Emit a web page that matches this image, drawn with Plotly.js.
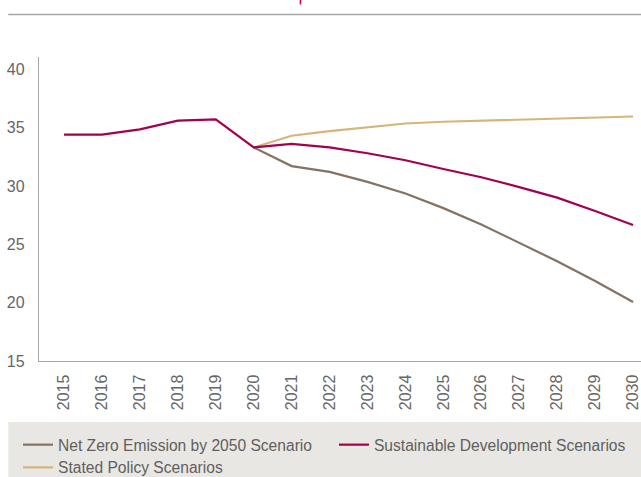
<!DOCTYPE html>
<html>
<head>
<meta charset="utf-8">
<script src="https://cdn.plot.ly/plotly-3.0.1.min.js"></script>
<style>
html,body{margin:0;padding:0;background:#fff;}
#chart{width:641px;height:477px;}
</style>
</head>
<body>
<div id="chart"></div>
<script>
const yearsAll = [2015,2016,2017,2018,2019,2020,2021,2022,2023,2024,2025,2026,2027,2028,2029,2030];
const yearsProj = [2020,2021,2022,2023,2024,2025,2026,2027,2028,2029,2030];
const sdsValues = [34.4,34.4,34.85,35.6,35.7,33.3,33.6,33.3,32.8,32.2,31.45,30.75,29.9,29.0,27.85,26.65];
const nzeValues = [33.3,31.7,31.2,30.35,29.35,28.1,26.7,25.15,23.55,21.85,20.05];
const stepsValues = [33.3,34.3,34.7,35.05,35.35,35.5,35.6,35.7,35.8,35.88,35.95];
const seriesNames = ["Net Zero Emission by 2050 Scenario","Sustainable Development Scenarios","Stated Policy Scenarios"];
const yTicks = [15,20,25,30,35,40];

const fam = "Liberation Sans, Arial, sans-serif";
const tickFont = {family:fam, size:16, color:"#666666"};
const legFont = {family:fam, size:15.6, color:"#5f5f5f"};

const traces = [
  {x:yearsProj, y:nzeValues, name:seriesNames[0], mode:"lines", line:{color:"#857262", width:2.2}, legend:"legend"},
  {x:yearsAll, y:sdsValues, name:seriesNames[1], mode:"lines", line:{color:"#A3004F", width:2.2}, legend:"legend2"},
  {x:yearsProj, y:stepsValues, name:seriesNames[2], mode:"lines", line:{color:"#D6B47A", width:2.2}, legend:"legend3"}
];
const ordered = [traces[2], traces[0], traces[1]];

function leg(x, y) {
  return {orientation:"h", x:x, xanchor:"left", y:y, yanchor:"top",
          xref:"container", yref:"container",
          bgcolor:"rgba(0,0,0,0)", font:legFont, itemwidth:30};
}

const layout = {
  width:641, height:477,
  margin:{l:39, r:0, t:57, b:116},
  paper_bgcolor:"#ffffff", plot_bgcolor:"#ffffff",
  font:{family:fam, size:15, color:"#5a5a5a"},
  showlegend:true,
  legend:leg(0.0281, 0.1027),
  legend2:leg(0.521, 0.1027),
  legend3:leg(0.0281, 0.0551),
  xaxis:{
    type:"linear", range:[2014.34, 2030.21],
    tickvals:yearsAll, ticktext:yearsAll.map(String), tickangle:-90,
    showgrid:false, zeroline:false, showline:true, linecolor:"#a6a6a6", linewidth:1.2,
    ticks:"", ticklabelstandoff:6, ticklabeloverflow:"allow",
    tickfont:tickFont, fixedrange:true
  },
  yaxis:{
    range:[15, 41.05], tickvals:yTicks,
    showgrid:false, zeroline:false, showline:true, linecolor:"#a6a6a6", linewidth:1.2,
    ticks:"", ticklabelstandoff:10,
    tickfont:tickFont, fixedrange:true
  },
  shapes:[
    {type:"rect", xref:"paper", yref:"paper", x0:-0.051, x1:1.0, y0:-0.2007, y1:-0.3839,
     fillcolor:"#E9E7E3", line:{width:0}, layer:"below"},
    {type:"line", xref:"paper", yref:"paper", x0:-0.051, x1:1.0, y0:1.1398, y1:1.1398,
     line:{color:"#a6a6a6", width:1.5}},
    {type:"line", xref:"paper", yref:"paper", x0:0.4343, x1:0.4343, y0:1.1875, y1:1.1727,
     line:{color:"#C8005A", width:1.5}}
  ]
};

Plotly.newPlot("chart", ordered, layout, {staticPlot:true, displayModeBar:false});
</script>
</body>
</html>
